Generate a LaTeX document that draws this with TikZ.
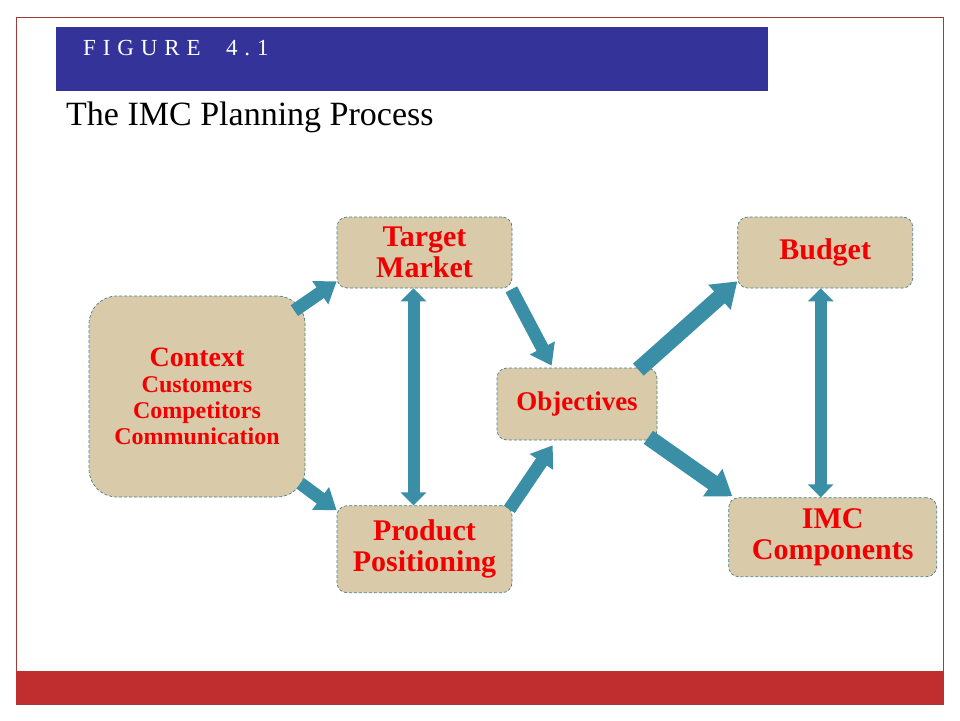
\documentclass[tikz,border=0pt]{standalone}
\usepackage{fontspec}
\setmainfont{Liberation Serif}
\usepackage{xcolor}
\usetikzlibrary{positioning,arrows.meta,calc}

\definecolor{tanfill}{HTML}{D9CAA9}
\definecolor{boxline}{HTML}{4A7F88}
\definecolor{flowteal}{HTML}{3A8FA6}
\definecolor{bannerblue}{HTML}{343399}
\definecolor{framered}{HTML}{A33A3A}
\definecolor{barred}{HTML}{C12E2F}
\definecolor{labelred}{HTML}{F00000}

\begin{document}
\begin{tikzpicture}[
  x=1pt, y=1pt,
  box/.style={draw=boxline, densely dashed, line width=0.7pt, fill=tanfill, rounded corners=10pt,
    inner sep=0pt, align=center, text=labelred, font=\bfseries\fontsize{30}{31}\selectfont},
  ctxbox/.style={box, rounded corners=28pt, font=\bfseries\fontsize{24}{26}\selectfont},
  flow/.style={line width=13pt, draw=flowteal, -{Triangle[length=20pt, width=27pt]}},
  bigflow/.style={line width=16pt, draw=flowteal, -{Triangle[length=24pt, width=32pt]}},
  twoway/.style={line width=12pt, draw=flowteal, {Triangle[length=13pt, width=25pt]}-{Triangle[length=13pt, width=25pt]}}
]
  \useasboundingbox (0,0) rectangle (960,-720);

  % slide frame
  \draw[framered, line width=0.8pt] (16,-17) rectangle (943,-704);
  \fill[barred] (16,-671) rectangle (943,-704);
  \fill[bannerblue] (56,-27) rectangle (768,-91);

  \node (fig-label) [anchor=base west, inner sep=0pt, text=white, font=\fontsize{23}{23}\selectfont\addfontfeatures{LetterSpace=30}] at (83,-55) {FIGURE\ \ 4.1};
  \node (title) [anchor=base west, inner sep=0pt, font=\fontsize{34}{34}\selectfont] at (66,-125) {The IMC Planning Process};

  % boxes
  \node (ctx) [ctxbox, minimum width=216pt, minimum height=201pt] at (197,-396.5) {{\fontsize{28}{27}\selectfont Context}\\Customers\\Competitors\\Communication};
  \node (tm) [box, minimum width=175pt, minimum height=71pt] at (424.5,-252.5) {Target\\Market};
  \node (pp) [box, below=217pt of tm, minimum width=175pt, minimum height=87pt] {Product\\Positioning};
  \node (obj) [box, minimum width=160pt, minimum height=72pt, font=\bfseries\fontsize{27}{28}\selectfont] at (577,-404) {Objectives};
  \node (bud) [box, right=225pt of tm, minimum width=175pt, minimum height=71pt] {Budget};
  \node (imc) [box, below=209pt of bud, xshift=7.5pt, minimum width=208pt, minimum height=79pt] {IMC\\Components};

  % arrows
  \draw[flow] ($(ctx.north east)+(-11,-15)$) -- ($(tm.south west)+(0,7)$);
  \draw[flow] ($(ctx.south east)+(-5,14)$) -- ($(pp.north west)+(0,-5)$);
  \draw[twoway] ($(tm.south)+(-11,0)$) -- ($(pp.north)+(-11,0)$);
  \draw[flow] ($(tm.south east)+(-1,-1)$) -- ($(obj.north west)+(55,2)$);
  \draw[flow] ($(pp.north east)+(-3,-4)$) -- ($(obj.south west)+(56,-5)$);
  \draw[bigflow] ($(obj.north east)+(-19,-2)$) -- ($(bud.south west)+(0,7)$);
  \draw[bigflow] ($(obj.south east)+(-9,3)$) -- ($(imc.north west)+(4,1)$);
  \draw[twoway] ($(bud.south)+(-4.5,0)$) -- ($(imc.north)+(-12,0)$);
\end{tikzpicture}
\end{document}
